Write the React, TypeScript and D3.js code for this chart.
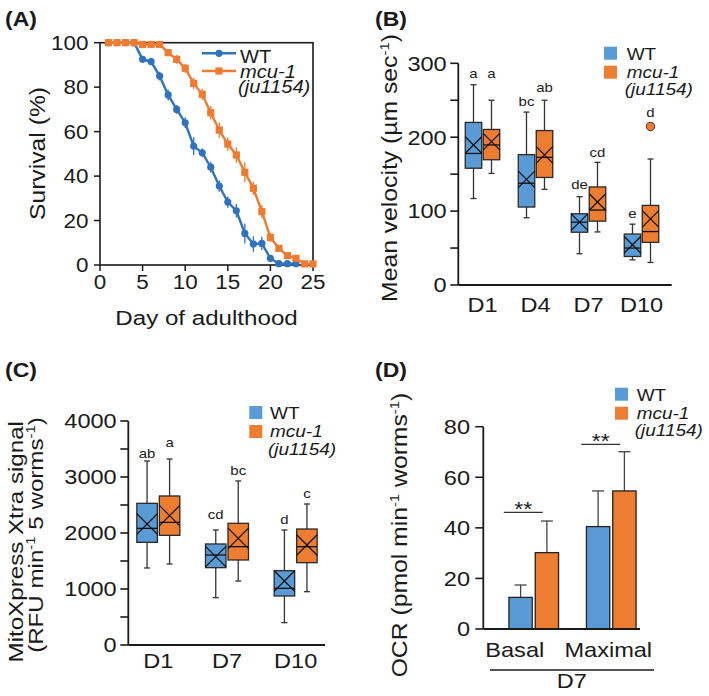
import * as d3 from "d3";
import React from "react";

const FONT = "'Liberation Sans', Arial, Helvetica, sans-serif";
const BLUE = "#5b9bd5";
const ORANGE = "#ed7d31";
const LINE_BLUE = "#2f72bd";
const LINE_ORANGE = "#ee7b30";
const INK = "#1a1a1a";
const SX = 1.15; // glyphs in the figure are a little wide

// ---- (A) survival ----
const wtDays = [1, 2, 3, 4, 5, 6, 7, 8, 9, 10, 11, 12, 13, 14, 15, 16, 17, 18, 19, 20, 21, 22, 23];
const wtSurvival = [100, 100, 100, 100, 92.5, 91.5, 85, 76.5, 70, 64, 53.5, 50.5, 44, 35.5, 28.3, 24.4, 14.2, 9.4, 9.7, 3, 0.6, 0.6, 0.6];
const wtSem = [0, 0, 0, 0, 1.5, 1.5, 2, 2.5, 2, 2.5, 4, 2, 2.5, 2.5, 2.5, 3, 4.5, 3.5, 3, 1.5, 0.5, 0, 0];
const mcuDays = [1, 2, 3, 4, 5, 6, 7, 8, 9, 10, 11, 12, 13, 14, 15, 16, 17, 18, 19, 20, 21, 22, 23, 24, 25];
const mcuSurvival = [100, 100, 100, 100, 99.2, 99.2, 99.2, 95.5, 92.5, 88.5, 81.7, 76.8, 68.5, 60.7, 54.4, 49.5, 41.7, 34.5, 24, 12.4, 7.5, 4.2, 3, 0.5, 0.5];
const mcuSem = [0, 0, 0, 0, 0.5, 0.5, 0.5, 1.5, 2, 2, 2.5, 2.5, 3, 3.5, 3, 3.5, 4.5, 3, 3, 2, 1.5, 1, 0.5, 0, 0];
const survivalXTicks = [0, 5, 10, 15, 20, 25];
const survivalYTicks = [0, 20, 40, 60, 80, 100];

// ---- (B) velocity, each box: [min, q1, median, q3, max, mean] ----
const velocityDays = ["D1", "D4", "D7", "D10"];
const velocityWT = [
  [117, 158, 178, 220, 271, 189.5],
  [91, 105.5, 137.7, 176.4, 234, 143],
  [42.3, 71.4, 85, 96.4, 119.5, 85],
  [34, 38.6, 50, 69, 82.3, 54.5],
];
const velocityMcu = [
  [151, 169.5, 189.5, 210.5, 250, 194],
  [129.5, 145.5, 172.7, 209, 250, 176],
  [71.8, 86.4, 101.4, 132.7, 166, 112.3],
  [30.5, 57.7, 72.3, 107.7, 170.5, 89.5],
];
const velocityMcuOutliers = [[], [], [], [214.5]];
const velocityLettersWT = ["a", "bc", "de", "e"];
const velocityLettersMcu = ["a", "ab", "cd", "d"];
const velocityLetterAtWT = [280, 242, 129.5, 91];
const velocityLetterAtMcu = [280, 261, 172.7, 227];
const velocityTicks = [0, 50, 100, 150, 200, 250, 300];

// ---- (C) MitoXpress signal ----
const signalDays = ["D1", "D7", "D10"];
const signalWT = [
  [1375, 1833, 2083, 2530, 3286, 2160],
  [845, 1381, 1607, 1804, 2054, 1577],
  [399, 875, 1012, 1327, 2054, 1143],
];
const signalMcu = [
  [1446, 1958, 2190, 2661, 3321, 2310],
  [1143, 1518, 1756, 2173, 2929, 1905],
  [952, 1470, 1756, 2071, 2518, 1786],
];
const signalLettersWT = ["ab", "cd", "d"];
const signalLettersMcu = ["a", "bc", "c"];
const signalLetterAtWT = [3345, 2250, 2155];
const signalLetterAtMcu = [3530, 3036, 2619];
const signalTicks = [0, 500, 1000, 1500, 2000, 2500, 3000, 3500, 4000];

// ---- (D) OCR ----
const ocrGroups = ["Basal", "Maximal"];
const ocrWT = [12.5, 40.5];
const ocrWTErr = [4.9, 14.1];
const ocrMcu = [30.2, 54.6];
const ocrMcuErr = [12.5, 15.5];
const ocrSigAt = [46.1, 73];
const ocrSigText = ["**", "**"];
const ocrTicks = [0, 20, 40, 60, 80];

function T({ x, y, rot = 0, size, anchor = "start", weight = "normal", italic = false, fill = INK, children }: any) {
  return (
    <text
      transform={`translate(${x},${y}) rotate(${rot}) scale(${SX},1)`}
      fontSize={size}
      fontFamily={FONT}
      fontWeight={weight}
      fontStyle={italic ? "italic" : "normal"}
      textAnchor={anchor}
      fill={fill}
    >
      {children}
    </text>
  );
}

function Box({ x, w, s, y, fill }: any) {
  const [mn, q1, md, q3, mx, mean] = s;
  const cx = x + w / 2;
  const h = w / 2;
  return (
    <g>
      <line x1={cx} x2={cx} y1={y(q3)} y2={y(mx)} stroke="#333" strokeWidth={1.3} />
      <line x1={cx} x2={cx} y1={y(q1)} y2={y(mn)} stroke="#333" strokeWidth={1.3} />
      <line x1={cx - 3} x2={cx + 3} y1={y(mx)} y2={y(mx)} stroke="#333" strokeWidth={1.3} />
      <line x1={cx - 3} x2={cx + 3} y1={y(mn)} y2={y(mn)} stroke="#333" strokeWidth={1.3} />
      <rect x={x} y={y(q3)} width={w} height={y(q1) - y(q3)} fill={fill} stroke="#2a2a2a" strokeWidth={1.3} />
      <line x1={x} x2={x + w} y1={y(md)} y2={y(md)} stroke="#111" strokeWidth={1.3} />
      <line x1={x} x2={x + w} y1={y(mean) - h} y2={y(mean) + h} stroke="#111" strokeWidth={1.2} />
      <line x1={x} x2={x + w} y1={y(mean) + h} y2={y(mean) - h} stroke="#111" strokeWidth={1.2} />
    </g>
  );
}

function SquareLegend({ x, y, textX }: any) {
  // y = top of WT square
  return (
    <g>
      <rect x={x} y={y} width={13} height={13} fill={BLUE} />
      <rect x={x} y={y + 19} width={13} height={13} fill={ORANGE} />
      <T x={textX} y={y + 13} size={16.5}>WT</T>
      <T x={textX} y={y + 31} size={16.5} italic>mcu-1</T>
      <T x={textX - 2} y={y + 48.5} size={16.5} italic>(ju1154)</T>
    </g>
  );
}

function PanelA() {
  const x = d3.scaleLinear().domain([0, 25]).range([100, 313]);
  const y = d3.scaleLinear().domain([0, 100]).range([265, 42.7]);
  const wtPts = wtDays.map((d, i) => [d, wtSurvival[i], wtSem[i]]);
  const mcuPts = mcuDays.map((d, i) => [d, mcuSurvival[i], mcuSem[i]]);
  const line = d3.line<any>().x((d) => x(d[0])).y((d) => y(d[1]));
  return (
    <g>
      <T x={5} y={26} size={20} weight="bold">(A)</T>
      {survivalXTicks.map((t) => (
        <g key={t}>
          <line x1={x(t)} x2={x(t)} y1={265} y2={271} stroke={INK} strokeWidth={1.5} />
          <T x={x(t)} y={289} size={19.5} anchor="middle">{t}</T>
        </g>
      ))}
      {survivalYTicks.map((t) => (
        <g key={t}>
          <line x1={94} x2={100} y1={y(t)} y2={y(t)} stroke={INK} strokeWidth={1.5} />
          <T x={88.5} y={y(t) + 7} size={19.5} anchor="end">{t}</T>
        </g>
      ))}
      <rect x={100} y={42.7} width={213} height={222.3} fill="none" stroke={INK} strokeWidth={1.6} />
      <path d={line(wtPts) || ""} fill="none" stroke={LINE_BLUE} strokeWidth={2.4} />
      {wtPts.map((p, i) => (
        <g key={i}>
          {p[2] > 0 && <line x1={x(p[0])} x2={x(p[0])} y1={y(p[1] - p[2])} y2={y(p[1] + p[2])} stroke={LINE_BLUE} strokeWidth={1.3} />}
          <circle cx={x(p[0])} cy={y(p[1])} r={3.6} fill={LINE_BLUE} />
        </g>
      ))}
      <path d={line(mcuPts) || ""} fill="none" stroke={LINE_ORANGE} strokeWidth={2.4} />
      {mcuPts.map((p, i) => (
        <g key={i}>
          {p[2] > 0 && <line x1={x(p[0])} x2={x(p[0])} y1={y(p[1] - p[2])} y2={y(p[1] + p[2])} stroke={LINE_ORANGE} strokeWidth={1.3} />}
          <rect x={x(p[0]) - 3.6} y={y(p[1]) - 3.6} width={7.2} height={7.2} fill={LINE_ORANGE} />
        </g>
      ))}
      {/* legend */}
      <line x1={202} x2={236} y1={53.3} y2={53.3} stroke={LINE_BLUE} strokeWidth={2.4} />
      <circle cx={219} cy={53.3} r={3.6} fill={LINE_BLUE} />
      <line x1={202} x2={236} y1={71} y2={71} stroke={LINE_ORANGE} strokeWidth={2.4} />
      <rect x={215.4} y={67.4} width={7.2} height={7.2} fill={LINE_ORANGE} />
      <T x={240} y={63.3} size={17.5}>WT</T>
      <T x={240} y={77.7} size={17.5} italic>mcu-1</T>
      <T x={238} y={93.3} size={17.5} italic>(ju1154)</T>
      <T x={45} y={153.5} rot={-90} size={21.5} anchor="middle">Survival (%)</T>
      <T x={206.5} y={325} size={21} anchor="middle">Day of adulthood</T>
    </g>
  );
}

function PanelB() {
  const x = d3.scaleBand().domain(velocityDays).range([456, 668]);
  const y = d3.scaleLinear().domain([0, 300]).range([285, 63.3]);
  const bw = 16.5;
  return (
    <g>
      <T x={375} y={26} size={20} weight="bold">(B)</T>
      {velocityTicks.map((t) => (
        <g key={t}>
          <line x1={450.3} x2={458.3} y1={y(t)} y2={y(t)} stroke={INK} strokeWidth={1.6} />
          {t % 100 === 0 && <T x={446.7} y={y(t) + 7.3} size={20.5} anchor="end">{t}</T>}
        </g>
      ))}
      <line x1={458.3} x2={458.3} y1={63.3} y2={285} stroke={INK} strokeWidth={1.8} />
      <line x1={458.3} x2={671.7} y1={285} y2={285} stroke={INK} strokeWidth={1.8} />
      {velocityDays.map((d, i) => {
        const c = (x(d) as number) + x.bandwidth() / 2;
        return (
          <g key={d}>
            <Box x={c - 0.75 - bw} w={bw} s={velocityWT[i]} y={y} fill={BLUE} />
            <Box x={c + 0.75} w={bw} s={velocityMcu[i]} y={y} fill={ORANGE} />
            {velocityMcuOutliers[i].map((o, k) => (
              <circle key={k} cx={c + 0.75 + bw / 2} cy={y(o)} r={4.2} fill={ORANGE} stroke="#333" strokeWidth={1} />
            ))}
            <T x={c - 0.75 - bw / 2} y={y(velocityLetterAtWT[i])} size={13} anchor="middle">{velocityLettersWT[i]}</T>
            <T x={c + 0.75 + bw / 2} y={y(velocityLetterAtMcu[i])} size={13} anchor="middle">{velocityLettersMcu[i]}</T>
            <T x={c} y={311.7} size={20.5} anchor="middle">{d}</T>
          </g>
        );
      })}
      <SquareLegend x={604} y={46.7} textX={626.7} />
      <T x={396.7} y={168} rot={-90} size={21.5} anchor="middle">
        Mean velocity (µm sec<tspan dy={-8} fontSize={13}>-1</tspan><tspan dy={8}>)</tspan>
      </T>
    </g>
  );
}

function PanelC() {
  const x = d3.scaleBand().domain(signalDays).range([124, 330]);
  const y = d3.scaleLinear().domain([0, 4000]).range([645, 421]);
  const bw = 20.5;
  return (
    <g>
      <T x={5} y={377} size={20} weight="bold">(C)</T>
      {signalTicks.map((t) => (
        <g key={t}>
          <line x1={120.3} x2={128.3} y1={y(t)} y2={y(t)} stroke={INK} strokeWidth={1.6} />
          {t % 1000 === 0 && <T x={116.7} y={y(t) + 7.3} size={20.5} anchor="end">{t}</T>}
        </g>
      ))}
      <line x1={128.3} x2={128.3} y1={421} y2={645} stroke={INK} strokeWidth={1.8} />
      <line x1={128.3} x2={325} y1={645} y2={645} stroke={INK} strokeWidth={1.8} />
      {signalDays.map((d, i) => {
        const c = (x(d) as number) + x.bandwidth() / 2;
        return (
          <g key={d}>
            <Box x={c - 1 - bw} w={bw} s={signalWT[i]} y={y} fill={BLUE} />
            <Box x={c + 1} w={bw} s={signalMcu[i]} y={y} fill={ORANGE} />
            <T x={c - 1 - bw / 2} y={y(signalLetterAtWT[i])} size={13} anchor="middle">{signalLettersWT[i]}</T>
            <T x={c + 1 + bw / 2} y={y(signalLetterAtMcu[i])} size={13} anchor="middle">{signalLettersMcu[i]}</T>
            <T x={c} y={668.3} size={20.5} anchor="middle">{d}</T>
          </g>
        );
      })}
      <SquareLegend x={249.3} y={406} textX={270} />
      <T x={23.3} y={541.7} rot={-90} size={21} anchor="middle">MitoXpress Xtra signal</T>
      <T x={42.7} y={535} rot={-90} size={21} anchor="middle">
        (RFU min<tspan dy={-8} fontSize={13}>-1</tspan><tspan dy={8}> 5 worms</tspan>
        <tspan dy={-8} fontSize={13}>-1</tspan><tspan dy={8}>)</tspan>
      </T>
    </g>
  );
}

function PanelD() {
  const x = d3.scaleBand().domain(ocrGroups).range([495, 650]);
  const y = d3.scaleLinear().domain([0, 80]).range([629, 426.7]);
  const bw = 23.3;
  const labelShift = [-19, -3];
  return (
    <g>
      <T x={375} y={377} size={20} weight="bold">(D)</T>
      {ocrTicks.map((t) => (
        <g key={t}>
          <line x1={475.3} x2={483.3} y1={y(t)} y2={y(t)} stroke={INK} strokeWidth={1.6} />
          <T x={470} y={y(t) + 7.3} size={20.5} anchor="end">{t}</T>
        </g>
      ))}
      {ocrGroups.map((g, i) => {
        const c = (x(g) as number) + x.bandwidth() / 2;
        const xw = c - 1.5 - bw;
        const xm = c + 1.5;
        return (
          <g key={g}>
            <line x1={xw + bw / 2} x2={xw + bw / 2} y1={y(ocrWT[i])} y2={y(ocrWT[i] + ocrWTErr[i])} stroke="#444" strokeWidth={1.3} />
            <line x1={xw + bw / 2 - 6} x2={xw + bw / 2 + 6} y1={y(ocrWT[i] + ocrWTErr[i])} y2={y(ocrWT[i] + ocrWTErr[i])} stroke="#444" strokeWidth={1.3} />
            <line x1={xm + bw / 2} x2={xm + bw / 2} y1={y(ocrMcu[i])} y2={y(ocrMcu[i] + ocrMcuErr[i])} stroke="#444" strokeWidth={1.3} />
            <line x1={xm + bw / 2 - 6} x2={xm + bw / 2 + 6} y1={y(ocrMcu[i] + ocrMcuErr[i])} y2={y(ocrMcu[i] + ocrMcuErr[i])} stroke="#444" strokeWidth={1.3} />
            <rect x={xw} y={y(ocrWT[i])} width={bw} height={y(0) - y(ocrWT[i])} fill={BLUE} stroke="#222" strokeWidth={1.3} />
            <rect x={xm} y={y(ocrMcu[i])} width={bw} height={y(0) - y(ocrMcu[i])} fill={ORANGE} stroke="#222" strokeWidth={1.3} />
            <line x1={c - 30} x2={c + 9} y1={y(ocrSigAt[i])} y2={y(ocrSigAt[i])} stroke="#333" strokeWidth={1.3} />
            <T x={c - 10.5} y={y(ocrSigAt[i]) + 4} size={20} anchor="middle">{ocrSigText[i]}</T>
            <T x={c + labelShift[i]} y={656.7} size={20.5} anchor="middle">{g}</T>
          </g>
        );
      })}
      <line x1={483.3} x2={483.3} y1={426.7} y2={629} stroke={INK} strokeWidth={1.8} />
      <line x1={483.3} x2={640} y1={629} y2={629} stroke={INK} strokeWidth={1.8} />
      <line x1={490} x2={654} y1={670} y2={670} stroke={INK} strokeWidth={1.6} />
      <T x={571.7} y={688} size={20.5} anchor="middle">D7</T>
      <SquareLegend x={615} y={387.7} textX={636.7} />
      <T x={407.3} y={535} rot={-90} size={21.5} anchor="middle">
        OCR (pmol min<tspan dy={-8} fontSize={13}>-1</tspan><tspan dy={8}> worms</tspan>
        <tspan dy={-8} fontSize={13}>-1</tspan><tspan dy={8}>)</tspan>
      </T>
    </g>
  );
}

export default function App() {
  return (
    <div style={{ position: "absolute", left: 0, top: 0 }}>
      <svg width={709} height={696} style={{ display: "block", background: "#fff" }}>
        <PanelA />
        <PanelB />
        <PanelC />
        <PanelD />
      </svg>
    </div>
  );
}
